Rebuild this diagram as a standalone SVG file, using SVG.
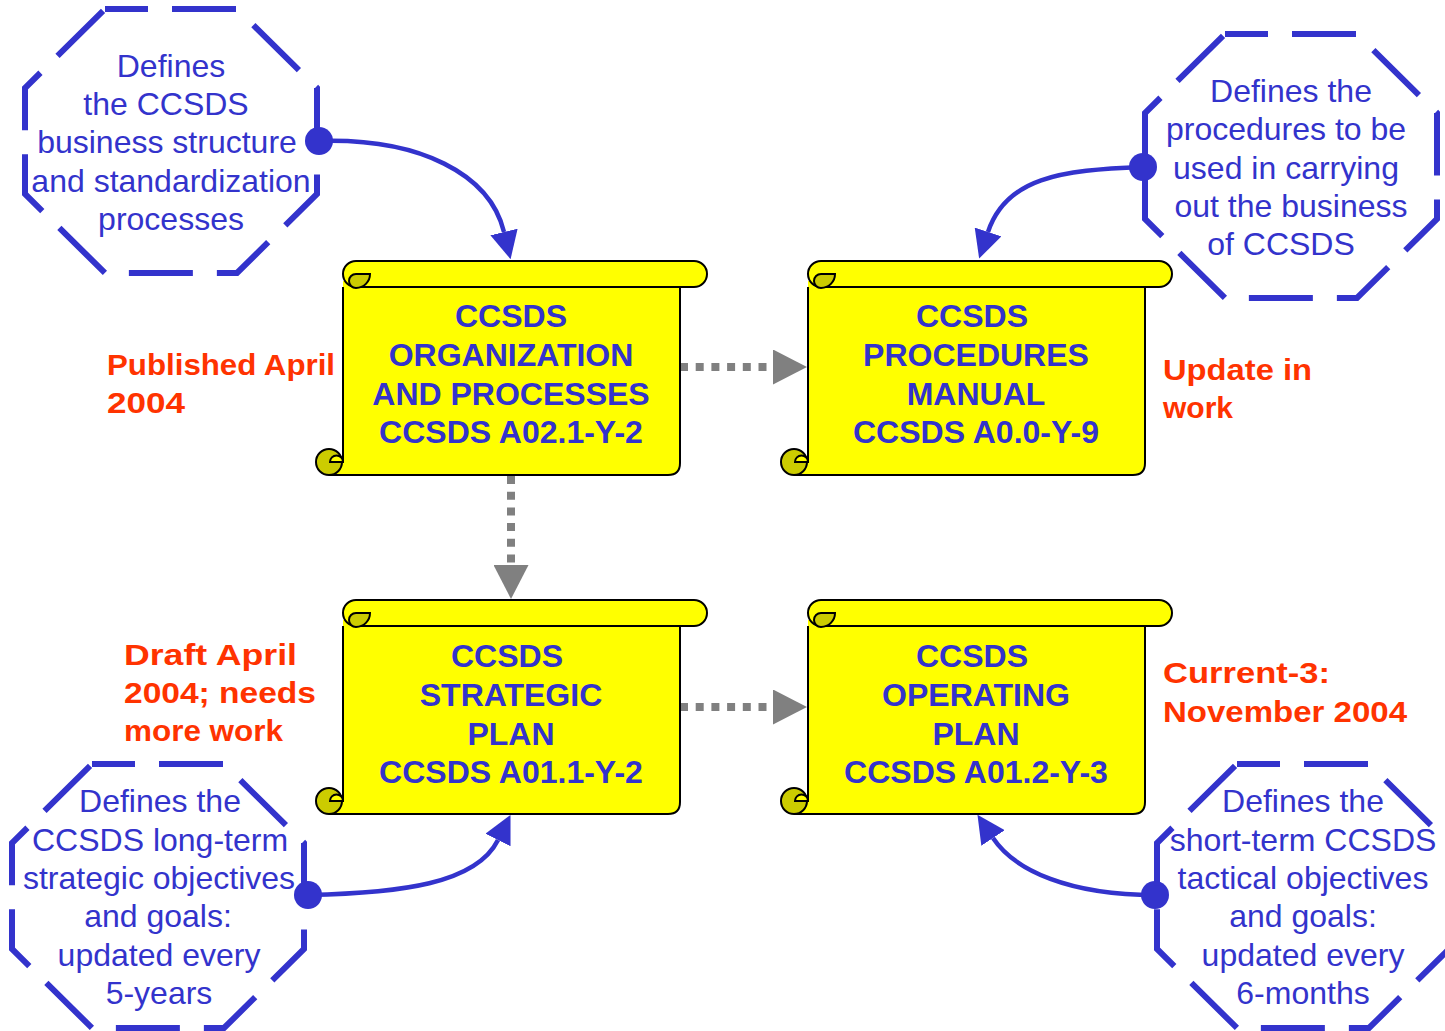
<svg xmlns="http://www.w3.org/2000/svg" xmlns:xlink="http://www.w3.org/1999/xlink" width="1445" height="1031" viewBox="0 0 1445 1031">
<style>
.oct{fill:none;stroke:#3333cc;stroke-width:6;stroke-dasharray:64 24;stroke-dashoffset:21;stroke-linejoin:miter}
.otx{font-family:"Liberation Sans",Arial,sans-serif;font-size:32px;fill:#3333cc;text-anchor:middle}
.stx{font-family:"Liberation Sans",Arial,sans-serif;font-size:32px;font-weight:bold;fill:#3333cc;text-anchor:middle}
.red{font-family:"Comic Sans MS","Liberation Sans",sans-serif;font-size:30px;font-weight:bold;fill:#ff3300}
.blue{fill:none;stroke:#3333cc;stroke-width:4.5;marker-end:url(#ba)}
.gray{fill:none;stroke:#808080;stroke-width:8;stroke-dasharray:8 7.7;marker-end:url(#ga)}
.dot{fill:#3333cc}
.ln{fill:none;stroke:#000;stroke-width:2}
</style>
<defs>
<marker id="ba" viewBox="0 0 28 28" refX="0" refY="14" markerWidth="28" markerHeight="28" markerUnits="userSpaceOnUse" orient="auto"><path d="M0,0 L28,14 L0,28 Z" fill="#3333cc"/></marker>
<marker id="ga" viewBox="0 0 34 35" refX="0" refY="17.5" markerWidth="34" markerHeight="35" markerUnits="userSpaceOnUse" orient="auto"><path d="M0,0 L34,17.5 L0,35 Z" fill="#808080"/></marker>
<path id="octo" class="oct" d="M80,0 L212,0 L292,79 L292,185 L212,264 L80,264 L0,185 L0,79 Z"/>
<g id="scroll">
<path d="M27,20 L27,201 L13,201 L13,214 L352,214 Q364,214 364,202 L364,20 Z" fill="#ffff00"/>
<path class="ln" d="M27,26 V201 M13,214 H352 Q364,214 364,202 V26"/>
<rect x="27" y="0" width="364" height="26" rx="13" ry="13" fill="#ffff00" stroke="#000" stroke-width="2"/>
<path d="M54,13 A14,14 0 0 1 40,27 A7,7 0 0 1 40,13 Z" fill="#cccc00" stroke="#000" stroke-width="2"/>
<circle cx="13" cy="201" r="13" fill="#cccc00" stroke="#000" stroke-width="2"/>
<path d="M14,201 A6.5,6.5 0 0 1 27,201 Z" fill="#ffff00" stroke="#000" stroke-width="2"/>
</g>
</defs>
<rect width="1445" height="1031" fill="#ffffff"/>

<g id="connectors">
<path class="blue" d="M319,141 C420,138 490,174 504,232"/>
<path class="blue" d="M1143,167 C1060,170 1006,178 988,232"/>
<path class="blue" d="M308,895 C400,893 476,884 498,840"/>
<path class="blue" d="M1155,895 C1070,895 1015,871 993,838"/>
<circle class="dot" cx="319" cy="141" r="14"/>
<circle class="dot" cx="1143" cy="167" r="14"/>
<circle class="dot" cx="308" cy="895" r="14"/>
<circle class="dot" cx="1155" cy="895" r="14"/>
<path class="gray" d="M680,367 H773"/>
<path class="gray" d="M511,476 V565"/>
<path class="gray" d="M680,707 H773"/>
</g>

<g id="note-business">
<use xlink:href="#octo" href="#octo" x="25" y="9"/>
<text class="otx"><tspan x="171" y="77">Defines</tspan><tspan x="166" y="115">the CCSDS</tspan><tspan x="167" y="153">business structure</tspan><tspan x="171" y="192">and standardization</tspan><tspan x="171" y="230">processes</tspan></text>
</g>

<g id="note-procedures">
<use xlink:href="#octo" href="#octo" x="1145" y="34"/>
<text class="otx"><tspan x="1291" y="102">Defines the</tspan><tspan x="1286" y="140">procedures to be</tspan><tspan x="1286" y="179">used in carrying</tspan><tspan x="1291" y="217">out the business</tspan><tspan x="1281" y="255">of CCSDS</tspan></text>
</g>

<g id="note-strategic">
<use xlink:href="#octo" href="#octo" x="12" y="764"/>
<text class="otx"><tspan x="160" y="812">Defines the</tspan><tspan x="160" y="851">CCSDS long-term</tspan><tspan x="159" y="889">strategic objectives</tspan><tspan x="158" y="927">and goals:</tspan><tspan x="159" y="966">updated every</tspan><tspan x="159" y="1004">5-years</tspan></text>
</g>

<g id="note-tactical">
<use xlink:href="#octo" href="#octo" x="1157" y="764"/>
<text class="otx"><tspan x="1303" y="812">Defines the</tspan><tspan x="1303" y="851">short-term CCSDS</tspan><tspan x="1303" y="889">tactical objectives</tspan><tspan x="1303" y="927">and goals:</tspan><tspan x="1303" y="966">updated every</tspan><tspan x="1303" y="1004">6-months</tspan></text>
</g>

<g id="doc-organization">
<use xlink:href="#scroll" href="#scroll" x="316" y="261"/>
<text class="stx"><tspan x="511" y="327">CCSDS</tspan><tspan x="511" y="366">ORGANIZATION</tspan><tspan x="511" y="405">AND PROCESSES</tspan><tspan x="511" y="443">CCSDS A02.1-Y-2</tspan></text>
</g>

<g id="doc-procedures">
<use xlink:href="#scroll" href="#scroll" x="781" y="261"/>
<text class="stx"><tspan x="972" y="327">CCSDS</tspan><tspan x="976" y="366">PROCEDURES</tspan><tspan x="976" y="405">MANUAL</tspan><tspan x="976" y="443">CCSDS A0.0-Y-9</tspan></text>
</g>

<g id="doc-strategic">
<use xlink:href="#scroll" href="#scroll" x="316" y="600"/>
<text class="stx"><tspan x="507" y="667">CCSDS</tspan><tspan x="511" y="706">STRATEGIC</tspan><tspan x="511" y="745">PLAN</tspan><tspan x="511" y="783">CCSDS A01.1-Y-2</tspan></text>
</g>

<g id="doc-operating">
<use xlink:href="#scroll" href="#scroll" x="781" y="600"/>
<text class="stx"><tspan x="972" y="667">CCSDS</tspan><tspan x="976" y="706">OPERATING</tspan><tspan x="976" y="745">PLAN</tspan><tspan x="976" y="783">CCSDS A01.2-Y-3</tspan></text>
</g>

<g id="status-organization">
<text class="red" x="107" y="375" textLength="228" lengthAdjust="spacingAndGlyphs">Published April</text>
<text class="red" x="107" y="413" textLength="78" lengthAdjust="spacingAndGlyphs">2004</text>
</g>
<g id="status-procedures">
<text class="red" x="1163" y="380" textLength="149" lengthAdjust="spacingAndGlyphs">Update in</text>
<text class="red" x="1163" y="418" textLength="70" lengthAdjust="spacingAndGlyphs">work</text>
</g>
<g id="status-strategic">
<text class="red" x="124" y="665" textLength="173" lengthAdjust="spacingAndGlyphs">Draft April</text>
<text class="red" x="124" y="703" textLength="192" lengthAdjust="spacingAndGlyphs">2004; needs</text>
<text class="red" x="124" y="741" textLength="159" lengthAdjust="spacingAndGlyphs">more work</text>
</g>
<g id="status-operating">
<text class="red" x="1163" y="683" textLength="167" lengthAdjust="spacingAndGlyphs">Current-3:</text>
<text class="red" x="1163" y="722" textLength="244" lengthAdjust="spacingAndGlyphs">November 2004</text>
</g>
</svg>
